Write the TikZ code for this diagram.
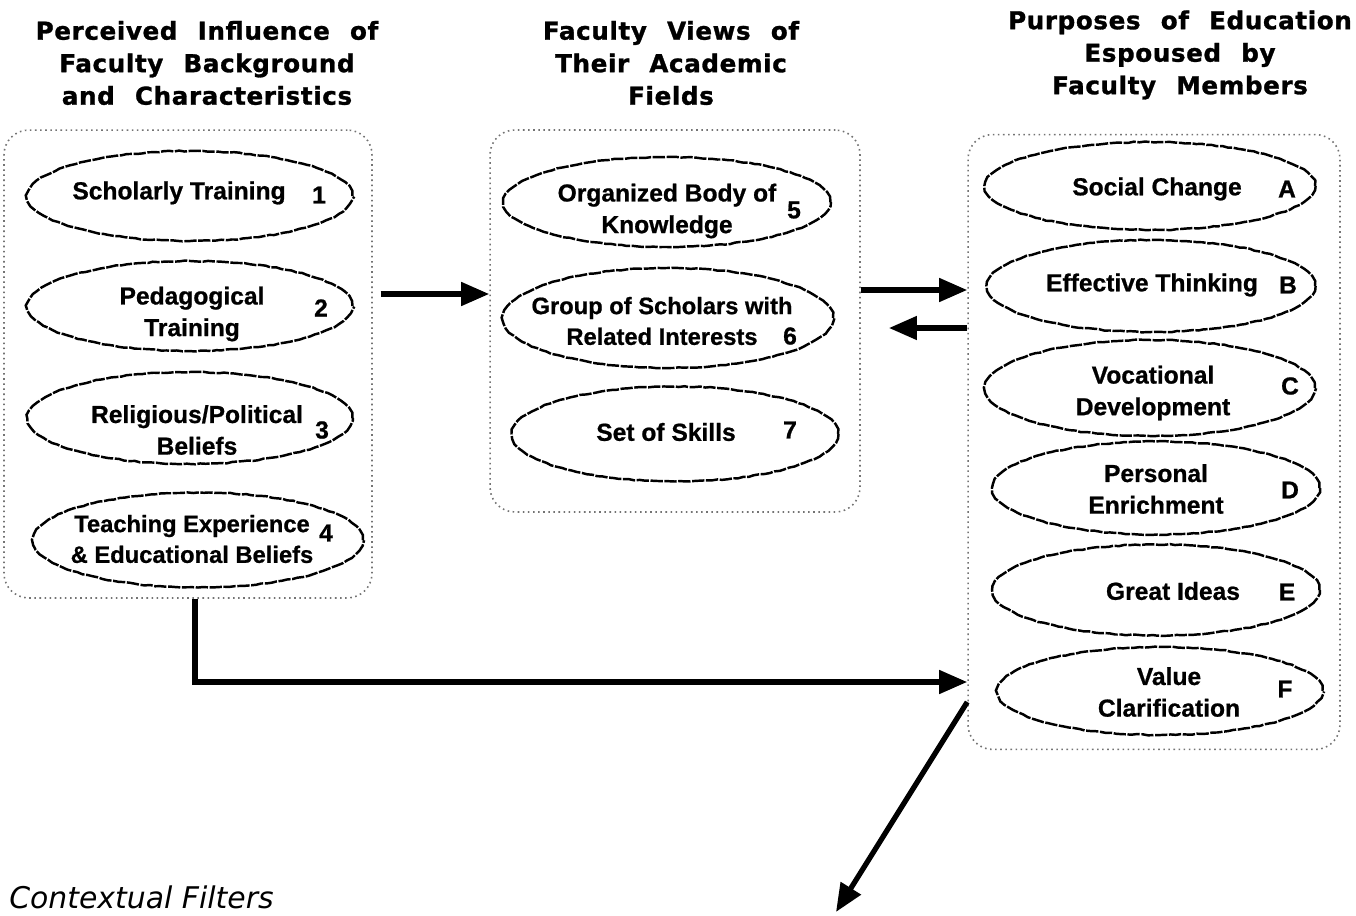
\documentclass[tikz,border=0pt]{standalone}
\usepackage{fontspec}
\setmainfont{Liberation Sans}[BoldFeatures={FakeBold=0.8}]
\newfontfamily\hdfont[WordSpace=2.2,LetterSpace=2.5,BoldFeatures={FakeBold=1.2}]{DejaVu Sans}
\newfontfamily\ctxfont{DejaVu Sans}
\usetikzlibrary{shapes.geometric,arrows.meta,decorations.pathmorphing}
\begin{document}
\begin{tikzpicture}[x=0.02cm,y=-0.02cm,
  panel/.style={draw=black!55, dotted, line width=0.9pt, rounded corners=14pt, inner sep=0pt},
  oval/.style={ellipse, draw, line width=1.4pt, dash pattern=on 7pt off 0.9pt,
    decorate, decoration={random steps,segment length=3pt,amplitude=0.3pt}, inner sep=0pt},
  lbl/.style={font=\fontsize{14}{18}\selectfont\bfseries, align=center, inner sep=0pt},
  small/.style={font=\fontsize{13.5}{17.5}\selectfont\bfseries},
  num/.style={font=\fontsize{14}{18}\selectfont\bfseries, inner sep=0pt},
  head/.style={font=\hdfont\fontsize{14}{18.5}\selectfont\bfseries, align=center, inner sep=0pt},
  flow/.style={line width=3pt, -{Triangle[length=16pt,width=13pt]}}
]
\pgfmathsetseed{7}
\useasboundingbox (0,0) rectangle (1356,916);

% column headings
\node[head] (h1) at (207,63) {Perceived Influence of\\Faculty Background\\and Characteristics};
\node[head] (h2) at (671,63) {Faculty Views of\\Their Academic\\Fields};
\node[head] (h3) at (1180,55) {Purposes of Education\\Espoused by\\Faculty Members};

% dotted panels
\node[panel, minimum width=7.36cm, minimum height=9.36cm] (leftbox) at (188,364) {};
\node[panel, minimum width=7.4cm, minimum height=7.64cm] (midbox) at (675,321) {};
\node[panel, minimum width=7.44cm, minimum height=12.3cm] (rightbox) at (1154,442) {};

% background and characteristics
\node[oval, minimum width=6.5cm, minimum height=1.8cm] (e1) at (190,196) {};
\node[oval, minimum width=6.5cm, minimum height=1.8cm] (e2) at (190,306) {};
\node[oval, minimum width=6.5cm, minimum height=1.84cm] (e3) at (190,418) {};
\node[oval, minimum width=6.6cm, minimum height=1.9cm] (e4) at (198,540) {};
\node[lbl] (t1) at (179,193) {Scholarly Training};
\node[lbl] (t2) at (192,314) {Pedagogical\\Training};
\node[lbl] (t3) at (197,430) {Religious/Political\\Beliefs};
\node[lbl, small] (t4) at (192,539) {Teaching Experience\\\& Educational Beliefs};
\node[num] (n1) at (319,195) {1};
\node[num] (n2) at (321,308) {2};
\node[num] (n3) at (322,430) {3};
\node[num] (n4) at (326,533) {4};

% views of academic fields
\node[oval, minimum width=6.54cm, minimum height=1.8cm] (e5) at (667,202) {};
\node[oval, minimum width=6.6cm, minimum height=2.0cm] (e6) at (668,318) {};
\node[oval, minimum width=6.52cm, minimum height=1.9cm] (e7) at (675,434) {};
\node[lbl] (t5) at (667,211) {Organized Body of\\Knowledge};
\node[lbl, small] (t6) at (662,321) {Group of Scholars with\\Related Interests};
\node[lbl] (t7) at (666,432) {Set of Skills};
\node[num] (n5) at (794,210) {5};
\node[num] (n6) at (790,336) {6};
\node[num] (n7) at (790,430) {7};

% purposes of education
\node[oval, minimum width=6.6cm, minimum height=1.76cm] (ea) at (1150,186) {};
\node[oval, minimum width=6.56cm, minimum height=1.84cm] (eb) at (1151,286) {};
\node[oval, minimum width=6.6cm, minimum height=1.92cm] (ec) at (1150,388) {};
\node[oval, minimum width=6.54cm, minimum height=1.86cm] (ed) at (1156,488) {};
\node[oval, minimum width=6.54cm, minimum height=1.82cm] (ee) at (1156,590) {};
\node[oval, minimum width=6.5cm, minimum height=1.76cm] (ef) at (1160,691) {};
\node[lbl] (ta) at (1157,189) {Social Change};
\node[lbl] (tb) at (1152,285) {Effective Thinking};
\node[lbl] (tc) at (1153,393) {Vocational\\Development};
\node[lbl] (td) at (1156,489) {Personal\\Enrichment};
\node[lbl] (te) at (1173,591) {Great Ideas};
\node[lbl] (tf) at (1169,692) {Value\\Clarification};
\node[num] (na) at (1287,189) {A};
\node[num] (nb) at (1288,285) {B};
\node[num] (nc) at (1290,386) {C};
\node[num] (nd) at (1290,490) {D};
\node[num] (ne) at (1287,592) {E};
\node[num] (nf) at (1285,689) {F};

% caption
\node[font=\ctxfont\itshape\fontsize{17}{20}\selectfont, anchor=west, inner sep=0pt] (ctx) at (9,897) {Contextual Filters};

% connectors
\coordinate (r1) at (0,294);
\coordinate (r2) at (0,290);
\coordinate (r3) at (0,328);
\coordinate (r4) at (195,682);
\coordinate (r5) at (0,702);
\coordinate (tip) at (836,912);
\draw[flow, shorten <=4.5pt] (leftbox.east |- r1) -- (midbox.west |- r1);
\draw[flow] (midbox.east |- r2) -- (rightbox.west |- r2);
\draw[flow, shorten >=16pt] (rightbox.west |- r3) -- (midbox.east |- r3);
\draw[flow] (leftbox.south -| r4) |- (rightbox.west |- r4);
\draw[flow] (rightbox.west |- r5) -- (tip);
\end{tikzpicture}
\end{document}
